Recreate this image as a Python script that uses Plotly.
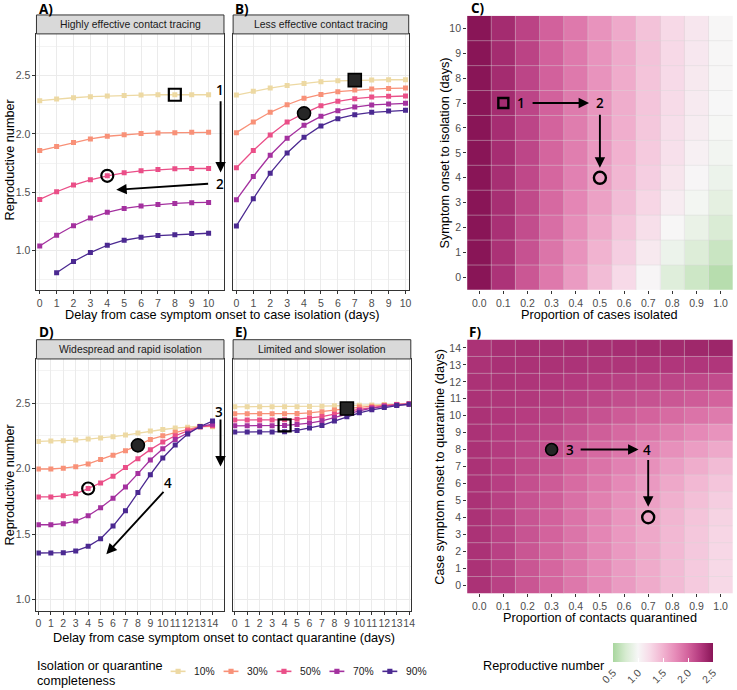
import plotly.graph_objects as go

W, H = 737, 690

# ---------------- data ----------------
delay_iso = list(range(0, 11))
delay_q = list(range(0, 15))
completeness_labels = ["10%", "30%", "50%", "70%", "90%"]
series_colors = ["#edd9a3", "#f89178", "#ea4f88", "#a4319f", "#4b2991"]

# A) Highly effective contact tracing
r_high_tracing = [
    [2.286, 2.300, 2.311, 2.320, 2.326, 2.331, 2.334, 2.337, 2.337, 2.337, 2.337],
    [1.857, 1.891, 1.926, 1.957, 1.980, 1.994, 2.003, 2.009, 2.011, 2.014, 2.014],
    [1.437, 1.503, 1.560, 1.606, 1.640, 1.666, 1.683, 1.694, 1.700, 1.703, 1.703],
    [1.037, 1.129, 1.211, 1.277, 1.326, 1.360, 1.380, 1.394, 1.403, 1.409, 1.411],
    [None, 0.806, 0.903, 0.980, 1.043, 1.086, 1.111, 1.126, 1.134, 1.143, 1.146],
]
# B) Less effective contact tracing
r_low_tracing = [
    [2.334, 2.366, 2.394, 2.417, 2.434, 2.449, 2.457, 2.463, 2.463, 2.466, 2.466],
    [2.011, 2.103, 2.186, 2.251, 2.306, 2.340, 2.363, 2.377, 2.386, 2.391, 2.394],
    [1.709, 1.857, 1.991, 2.103, 2.177, 2.243, 2.280, 2.303, 2.317, 2.323, 2.326],
    [1.434, 1.634, 1.817, 1.963, 2.074, 2.151, 2.200, 2.231, 2.249, 2.257, 2.263],
    [1.209, 1.443, 1.663, 1.837, 1.971, 2.069, 2.131, 2.166, 2.186, 2.197, 2.203],
]
# D) Widespread and rapid isolation
r_rapid_iso = [
    [2.208, 2.211, 2.213, 2.218, 2.226, 2.234, 2.244, 2.256, 2.272, 2.287, 2.299, 2.310, 2.317, 2.325, 2.320],
    [1.997, 1.997, 2.003, 2.015, 2.036, 2.069, 2.102, 2.137, 2.178, 2.223, 2.251, 2.277, 2.300, 2.320, 2.325],
    [1.784, 1.784, 1.792, 1.807, 1.848, 1.891, 1.942, 2.008, 2.076, 2.145, 2.203, 2.251, 2.289, 2.320, 2.330],
    [1.571, 1.571, 1.579, 1.599, 1.640, 1.701, 1.774, 1.860, 1.962, 2.066, 2.152, 2.223, 2.272, 2.320, 2.340],
    [1.355, 1.355, 1.358, 1.371, 1.406, 1.464, 1.561, 1.678, 1.817, 1.954, 2.081, 2.180, 2.264, 2.322, 2.363],
]
# E) Limited and slower isolation
r_slow_iso = [
    [2.472, 2.472, 2.472, 2.472, 2.472, 2.472, 2.475, 2.477, 2.480, 2.482, 2.485, 2.487, 2.490, 2.492, 2.495],
    [2.419, 2.419, 2.419, 2.419, 2.419, 2.421, 2.426, 2.434, 2.447, 2.459, 2.470, 2.477, 2.485, 2.490, 2.495],
    [2.371, 2.371, 2.371, 2.371, 2.373, 2.378, 2.386, 2.398, 2.416, 2.437, 2.452, 2.467, 2.480, 2.490, 2.495],
    [2.327, 2.327, 2.327, 2.327, 2.330, 2.338, 2.348, 2.365, 2.391, 2.419, 2.442, 2.462, 2.477, 2.487, 2.492],
    [2.279, 2.279, 2.279, 2.279, 2.282, 2.292, 2.310, 2.330, 2.363, 2.396, 2.426, 2.449, 2.467, 2.482, 2.492],
]

# C) heatmap: rows = symptom onset to isolation (0..10 days), cols = proportion isolated
prop_values = [0.0, 0.1, 0.2, 0.3, 0.4, 0.5, 0.6, 0.7, 0.8, 0.9, 1.0]
prop_labels = ["0.0", "0.1", "0.2", "0.3", "0.4", "0.5", "0.6", "0.7", "0.8", "0.9", "1.0"]
iso_days = list(range(0, 11))
r_isolation_grid = [
    [2.50, 2.29, 2.07, 1.86, 1.65, 1.44, 1.24, 1.02, 0.82, 0.70, 0.58],
    [2.50, 2.30, 2.10, 1.89, 1.70, 1.50, 1.32, 1.12, 0.92, 0.80, 0.68],
    [2.50, 2.31, 2.13, 1.93, 1.74, 1.56, 1.38, 1.20, 1.01, 0.90, 0.78],
    [2.50, 2.32, 2.15, 1.96, 1.78, 1.61, 1.44, 1.27, 1.09, 0.97, 0.86],
    [2.50, 2.32, 2.16, 1.98, 1.81, 1.64, 1.48, 1.32, 1.15, 1.02, 0.92],
    [2.50, 2.33, 2.17, 1.99, 1.83, 1.67, 1.51, 1.35, 1.19, 1.06, 0.96],
    [2.50, 2.33, 2.18, 2.00, 1.84, 1.68, 1.53, 1.37, 1.21, 1.09, 0.99],
    [2.50, 2.34, 2.18, 2.01, 1.85, 1.69, 1.54, 1.38, 1.23, 1.11, 1.00],
    [2.50, 2.34, 2.18, 2.01, 1.86, 1.70, 1.55, 1.39, 1.24, 1.12, 1.01],
    [2.50, 2.34, 2.19, 2.01, 1.86, 1.70, 1.56, 1.40, 1.25, 1.13, 1.01],
    [2.50, 2.34, 2.19, 2.01, 1.86, 1.70, 1.56, 1.40, 1.25, 1.14, 1.01],
]
# F) heatmap: rows = case symptom onset to quarantine (0..14 days), cols = proportion quarantined
quar_days = list(range(0, 15))
r_quarantine_grid = [
    [2.30, 2.20, 2.08, 1.98, 1.87, 1.76, 1.65, 1.55, 1.45, 1.35, 1.25],
    [2.30, 2.20, 2.08, 1.98, 1.87, 1.76, 1.65, 1.55, 1.45, 1.35, 1.25],
    [2.30, 2.20, 2.08, 1.99, 1.88, 1.77, 1.66, 1.56, 1.46, 1.36, 1.26],
    [2.30, 2.20, 2.09, 2.00, 1.89, 1.78, 1.67, 1.57, 1.47, 1.37, 1.27],
    [2.30, 2.21, 2.09, 2.01, 1.90, 1.80, 1.69, 1.59, 1.49, 1.39, 1.29],
    [2.30, 2.21, 2.10, 2.03, 1.92, 1.82, 1.72, 1.62, 1.52, 1.42, 1.33],
    [2.30, 2.22, 2.12, 2.05, 1.95, 1.86, 1.76, 1.66, 1.57, 1.47, 1.38],
    [2.30, 2.23, 2.15, 2.08, 1.99, 1.90, 1.81, 1.72, 1.63, 1.54, 1.45],
    [2.30, 2.24, 2.17, 2.12, 2.04, 1.96, 1.88, 1.80, 1.72, 1.64, 1.56],
    [2.30, 2.25, 2.20, 2.16, 2.09, 2.03, 1.96, 1.90, 1.83, 1.76, 1.70],
    [2.30, 2.27, 2.23, 2.20, 2.15, 2.10, 2.05, 2.00, 1.95, 1.90, 1.85],
    [2.30, 2.28, 2.26, 2.24, 2.20, 2.17, 2.13, 2.10, 2.07, 2.04, 2.00],
    [2.30, 2.30, 2.28, 2.27, 2.25, 2.23, 2.21, 2.19, 2.18, 2.16, 2.14],
    [2.30, 2.31, 2.30, 2.30, 2.29, 2.28, 2.28, 2.27, 2.27, 2.27, 2.27],
    [2.30, 2.32, 2.32, 2.32, 2.32, 2.32, 2.33, 2.34, 2.35, 2.37, 2.38],
]

# highlighted scenarios: (series index, delay index, symbol)
hl_a = [(0, 8, "square-open"), (2, 4, "circle-open")]
hl_b = [(0, 7, "square"), (2, 4, "circle")]
hl_d = [(1, 8, "circle"), (2, 4, "circle-open")]
hl_e = [(3, 4, "square-open"), (1, 9, "square")]
hl_c = [(0.1, 7, "square-open"), (0.5, 4, "circle-open")]
hl_f = [(0.3, 8, "circle"), (0.7, 4, "circle-open")]

r_ticks = [1.0, 1.5, 2.0, 2.5]
r_ticktext = ["1.0", "1.5", "2.0", "2.5"]
r_minor = [0.75, 1.25, 1.75, 2.25, 2.75]
cbar_ticks = [0.5, 1.0, 1.5, 2.0, 2.5]
cbar_ticktext = ["0.5", "1.0", "1.5", "2.0", "2.5"]

# ---------------- helpers ----------------
def px(xp):
    return xp / W

def py(yp):
    return 1 - yp / H

FONT = "Liberation Sans"
TICK_FONT = dict(family=FONT, size=10.5, color="#4d4d4d")
TITLE_FONT = dict(family=FONT, size=12.7, color="#000000")
LABEL_FONT = dict(family="Open Sans", size=13.5, color="#000000", weight=700)
NUM_FONT = dict(family="Open Sans", size=13.5, color="#000000", weight=600)
GRID = "#ebebeb"
BORDER = "#333333"

fig = go.Figure()

# panel geometry (pixels)
PA = dict(x0=35.7, x1=224.5, y0=34.0, y1=291.0, strip=15.0)
PB = dict(x0=233.7, x1=410.5, y0=34.0, y1=291.0, strip=15.0)
PD = dict(x0=35.7, x1=224.5, y0=360.0, y1=612.5, strip=340.7)
PE = dict(x0=233.7, x1=412.6, y0=360.0, y1=612.5, strip=340.7)
PC = dict(x0=469.3, x1=736.7, y0=15.8, y1=290.8)
PF = dict(x0=469.3, x1=736.7, y0=340.5, y1=595.2)

def dom(p):
    return [px(p["x0"]), px(p["x1"])], [py(p["y1"]), py(p["y0"])]

def line_axes(n, p, xr, yr, xvals, ylabels):
    xd, yd = dom(p)
    sx = "" if n == 1 else str(n)
    xa = dict(domain=xd, range=xr, anchor="y" + sx, tickmode="array", tickvals=xvals,
              ticktext=[str(v) for v in xvals], ticks="outside", ticklen=3, tickcolor=BORDER,
              tickangle=0, tickfont=TICK_FONT, showgrid=True, gridcolor=GRID, gridwidth=1,
              zeroline=False, showline=True, linecolor=BORDER, linewidth=1, mirror=True)
    ya = dict(domain=yd, range=yr, anchor="x" + sx, tickmode="array", tickvals=r_ticks,
              ticktext=r_ticktext, ticks="outside" if ylabels else "", ticklen=3,
              tickcolor=BORDER, tickfont=TICK_FONT, showticklabels=ylabels, showgrid=True,
              gridcolor=GRID, gridwidth=1, zeroline=False, showline=True, linecolor=BORDER,
              linewidth=1, mirror=True,
              minor=dict(tickmode="array", tickvals=r_minor, showgrid=True, gridcolor=GRID,
                         gridwidth=0.6, ticks=""))
    fig.update_layout(**{"xaxis" + sx: xa, "yaxis" + sx: ya})

def heat_axes(n, p, ydays):
    xd, yd = dom(p)
    sx = str(n)
    xa = dict(domain=xd, range=[-0.05, 1.05], anchor="y" + sx, tickmode="array",
              tickvals=prop_values, ticktext=prop_labels, ticks="outside", ticklen=3,
              tickangle=0, tickcolor=BORDER, tickfont=TICK_FONT, showgrid=False,
              zeroline=False, showline=False)
    ya = dict(domain=yd, range=[-0.5, ydays[-1] + 0.5], anchor="x" + sx, tickmode="array",
              tickvals=ydays, ticktext=[str(v) for v in ydays], ticks="outside", ticklen=3,
              tickcolor=BORDER, tickfont=TICK_FONT, showgrid=False, zeroline=False, showline=False)
    fig.update_layout(**{"xaxis" + sx: xa, "yaxis" + sx: ya})

line_axes(1, PA, [-0.194, 10.91], [0.657, 2.86], delay_iso, True)
line_axes(2, PB, [-0.194, 10.19], [0.657, 2.86], delay_iso, False)
heat_axes(3, PC, iso_days)
line_axes(4, PD, [-0.157, 14.92], [0.914, 2.838], delay_q, True)
line_axes(5, PE, [-0.13, 14.13], [0.914, 2.838], delay_q, False)
heat_axes(6, PF, quar_days)

# ---------------- line panels ----------------
def add_lines(xs, series, n, highlights):
    sx = "" if n == 1 else str(n)
    for vals, col in zip(series, series_colors):
        fig.add_trace(go.Scatter(x=xs, y=vals, mode="lines+markers",
                                 line=dict(color=col, width=1.3),
                                 marker=dict(symbol="square", size=5, color=col),
                                 xaxis="x" + sx, yaxis="y" + sx, showlegend=False,
                                 hoverinfo="skip"))
    for si, di, sym in highlights:
        filled = not sym.endswith("open")
        fig.add_trace(go.Scatter(
            x=[xs[di]], y=[series[si][di]], mode="markers",
            marker=dict(symbol=sym, size=13 if filled else 12,
                        color="#262626" if filled else "black",
                        line=dict(color="black", width=1.6 if filled else 2.2)),
            xaxis="x" + sx, yaxis="y" + sx, showlegend=False, hoverinfo="skip"))

add_lines(delay_iso, r_high_tracing, 1, hl_a)
add_lines(delay_iso, r_low_tracing, 2, hl_b)
add_lines(delay_q, r_rapid_iso, 4, hl_d)
add_lines(delay_q, r_slow_iso, 5, hl_e)

# ---------------- heatmaps ----------------
colorscale = [
    [0.0, "#a8d69e"], [0.125, "#d6ebd0"], [0.25, "#f7f7f7"], [0.375, "#f7d9e7"],
    [0.5, "#f1b3d0"], [0.625, "#e68bb8"], [0.75, "#d3639d"], [0.875, "#b3397e"],
    [1.0, "#891557"],
]
fig.add_trace(go.Heatmap(x=prop_values, y=iso_days, z=r_isolation_grid, coloraxis="coloraxis",
                         xaxis="x3", yaxis="y3", hoverinfo="skip"))
fig.add_trace(go.Heatmap(x=prop_values, y=quar_days, z=r_quarantine_grid, coloraxis="coloraxis",
                         xaxis="x6", yaxis="y6", hoverinfo="skip"))

shapes = []
for n, ydays in ((3, iso_days), (6, quar_days)):
    for k in range(1, len(prop_values)):
        xv = -0.05 + 0.1 * k
        shapes.append(dict(type="line", xref="x%d" % n, yref="y%d" % n, x0=xv, x1=xv,
                           y0=-0.5, y1=ydays[-1] + 0.5,
                           line=dict(color="rgba(215,215,215,0.55)", width=0.8)))
    for k in range(1, len(ydays)):
        shapes.append(dict(type="line", xref="x%d" % n, yref="y%d" % n, x0=-0.05, x1=1.05,
                           y0=k - 0.5, y1=k - 0.5,
                           line=dict(color="rgba(215,215,215,0.55)", width=0.8)))

for n, highlights in ((3, hl_c), (6, hl_f)):
    for xv, yv, sym in highlights:
        filled = not sym.endswith("open")
        fig.add_trace(go.Scatter(
            x=[xv], y=[yv], mode="markers",
            marker=dict(symbol=sym, size=12 if filled else (10 if "square" in sym else 12),
                        color="#262626" if filled else "black",
                        line=dict(color="black", width=1.6 if filled else 2.4)),
            xaxis="x%d" % n, yaxis="y%d" % n, showlegend=False, hoverinfo="skip"))

fig.update_layout(coloraxis=dict(
    colorscale=colorscale, cmin=0.5, cmax=2.5,
    colorbar=dict(orientation="h", x=px(666.7), xanchor="center", y=py(645), yanchor="top",
                  len=100, lenmode="pixels", thickness=19, thicknessmode="pixels",
                  tickmode="array", tickvals=cbar_ticks, ticktext=cbar_ticktext, tickangle=-45,
                  ticks="inside", tickcolor="white", ticklen=4, outlinewidth=0,
                  xpad=0, ypad=0, tickfont=TICK_FONT, title=dict(text=""))))

# ---------------- strips ----------------
annotations = []
for p, label in ((PA, "Highly effective contact tracing"), (PB, "Less effective contact tracing"),
                 (PD, "Widespread and rapid isolation"), (PE, "Limited and slower isolation")):
    shapes.append(dict(type="rect", xref="paper", yref="paper", x0=px(p["x0"]), x1=px(p["x1"]),
                       y0=py(p["y0"]), y1=py(p["strip"]), fillcolor="#d9d9d9",
                       line=dict(color=BORDER, width=1), layer="above"))
    annotations.append(dict(text=label, xref="paper", yref="paper",
                            x=px((p["x0"] + p["x1"]) / 2), y=py((p["y0"] + p["strip"]) / 2),
                            showarrow=False, xanchor="center", yanchor="middle",
                            font=dict(family=FONT, size=10.4, color="#1a1a1a")))

# ---------------- titles & panel letters ----------------
def ann(text, x, y, font, angle=0, xanchor="center"):
    annotations.append(dict(text=text, xref="paper", yref="paper", x=px(x), y=py(y),
                            showarrow=False, xanchor=xanchor, yanchor="middle",
                            textangle=angle, font=font))

ann("A)", 36, 9, LABEL_FONT, xanchor="left")
ann("B)", 234, 9, LABEL_FONT, xanchor="left")
ann("C)", 471, 8, LABEL_FONT, xanchor="left")
ann("D)", 36, 333, LABEL_FONT, xanchor="left")
ann("E)", 234, 333, LABEL_FONT, xanchor="left")
ann("F)", 469, 333, LABEL_FONT, xanchor="left")

ann("Reproductive number", 9, 160, TITLE_FONT, angle=-90)
ann("Reproductive number", 9, 486, TITLE_FONT, angle=-90)
ann("Delay from case symptom onset to case isolation (days)", 223, 316, TITLE_FONT)
ann("Delay from case symptom onset to contact quarantine (days)", 224.5, 639.5, TITLE_FONT)
ann("Proportion of cases isolated", 602.6, 315.5, TITLE_FONT)
ann("Proportion of contacts quarantined", 602.6, 620, TITLE_FONT)
ann("Symptom onset to isolation (days)", 447, 153, TITLE_FONT, angle=-90)
ann("Case symptom onset to quarantine (days)", 442, 468, TITLE_FONT, angle=-90)

# ---------------- arrows & numbers ----------------
def arrow(n, x_tail, y_tail, x_head, y_head):
    sx = "" if n == 1 else str(n)
    annotations.append(dict(text="", x=x_head, y=y_head, ax=x_tail, ay=y_tail,
                            xref="x" + sx, yref="y" + sx, axref="x" + sx, ayref="y" + sx,
                            showarrow=True, arrowhead=2, arrowsize=1.1, arrowwidth=1.9,
                            arrowcolor="black", standoff=0, startstandoff=0))

def num(n, text, x, y):
    sx = "" if n == 1 else str(n)
    annotations.append(dict(text=text, x=x, y=y, xref="x" + sx, yref="y" + sx,
                            showarrow=False, xanchor="center", yanchor="middle", font=NUM_FONT))

num(1, "1", 10.69, 2.38)
arrow(1, 10.71, 2.294, 10.71, 1.669)
num(1, "2", 10.65, 1.572)
arrow(1, 10.06, 1.572, 4.53, 1.52)

num(3, "1", 0.174, 7)
arrow(3, 0.215, 7, 0.455, 7)
num(3, "2", 0.5, 7)
arrow(3, 0.5, 6.59, 0.5, 4.4)

num(4, "3", 14.5, 2.436)
arrow(4, 14.64, 2.386, 14.64, 2.017)
num(4, "4", 10.38, 1.89)
arrow(4, 10.17, 1.834, 5.46, 1.346)

num(6, "3", 0.375, 7.96)
arrow(6, 0.414, 8, 0.66, 8)
num(6, "4", 0.695, 8)
arrow(6, 0.7, 7.47, 0.7, 4.62)

# ---------------- bottom legend ----------------
ann("Isolation or quarantine", 34, 668, TITLE_FONT, xanchor="left")
ann("completeness", 34, 683, TITLE_FONT, xanchor="left")
for i, (lab, col) in enumerate(zip(completeness_labels, series_colors)):
    cx = 178.3 + 53.3 * i
    shapes.append(dict(type="line", xref="paper", yref="paper", x0=px(cx - 7.5), x1=px(cx + 7.5),
                       y0=py(673.3), y1=py(673.3), line=dict(color=col, width=1.6)))
    shapes.append(dict(type="rect", xref="paper", yref="paper", x0=px(cx - 2.6), x1=px(cx + 2.6),
                       y0=py(675.9), y1=py(670.7), fillcolor=col, line=dict(width=0)))
    ann(lab, cx + 14, 673.3, dict(family=FONT, size=10.3, color="#1a1a1a"), xanchor="left")

ann("Reproductive number", 610, 668, TITLE_FONT, xanchor="right")

fig.update_layout(
    width=W, height=H, autosize=False,
    margin=dict(l=0, r=0, t=0, b=0),
    paper_bgcolor="white", plot_bgcolor="white",
    showlegend=False,
    shapes=shapes, annotations=annotations,
    font=dict(family=FONT),
)

fig.write_html(
    "out.html",
    config={"displayModeBar": False, "staticPlot": True},
    post_script="document.body.style.margin='0';document.body.style.padding='0';"
                "document.body.style.overflow='hidden';"
                "document.documentElement.style.overflow='hidden';",
)
